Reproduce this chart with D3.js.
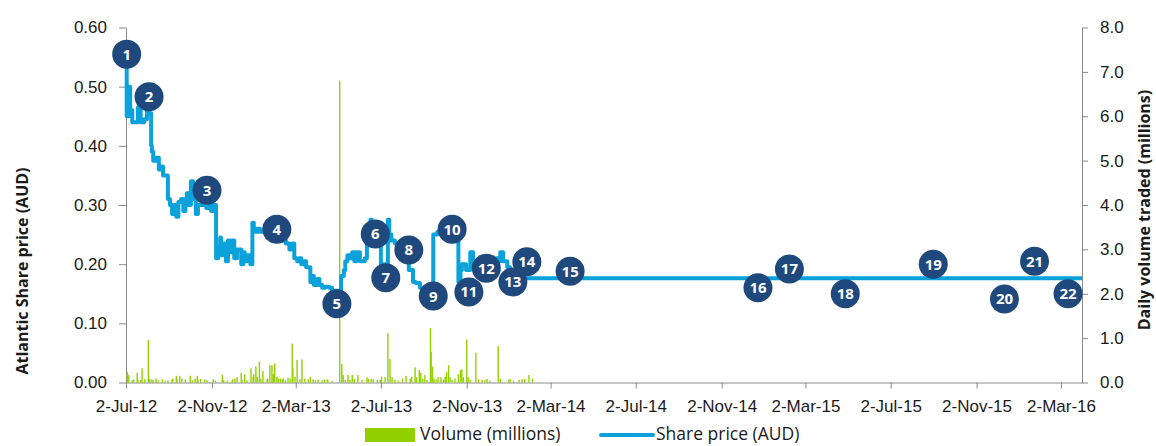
<!DOCTYPE html>
<html>
<head>
	<meta charset='utf-8'>
	<title>Atlantic share price</title>
	<style>
		body { margin: 0; background: #fff; }
		svg { font-family: 'Open Sans', sans-serif; }
		.axis path, .axis line { stroke: #898989; }
		.axis text { fill: #1a1a1a; font-size: 17px; }
		.title { font-size: 16px; font-weight: bold; fill: #1a1a1a; }
		.legend text { font-size: 17.5px; fill: #1a1a1a; }
		.mark text { fill: #fff; font-size: 15px; font-weight: bold; }
	</style>
</head>
<body>
<script src='https://d3js.org/d3.v7.min.js'></script>
<script>
	'use strict';
	// share price
	const priceDates = ['2012-07-02','2012-07-03','2012-07-06','2012-07-08','2012-07-11','2012-07-15','2012-07-19','2012-07-23','2012-07-28','2012-08-01',
		'2012-08-04','2012-08-07','2012-08-08','2012-08-10','2012-08-14','2012-08-18','2012-08-21','2012-08-24','2012-08-28','2012-08-31',
		'2012-09-03','2012-09-06','2012-09-09','2012-09-12','2012-09-15','2012-09-19','2012-09-22','2012-09-25','2012-09-27','2012-09-30',
		'2012-10-03','2012-10-06','2012-10-09','2012-10-10','2012-10-13','2012-10-19','2012-10-25','2012-10-27','2012-11-01','2012-11-04',
		'2012-11-07','2012-11-08','2012-11-11','2012-11-14','2012-11-15','2012-11-19','2012-11-22','2012-11-25','2012-11-28','2012-12-01',
		'2012-12-04','2012-12-08','2012-12-14','2012-12-17','2012-12-19','2012-12-22','2012-12-27','2012-12-30','2013-01-01','2013-01-06',
		'2013-01-10','2013-01-16','2013-01-20','2013-01-26','2013-02-09','2013-02-16','2013-02-21','2013-02-25','2013-02-28','2013-03-04',
		'2013-03-07','2013-03-10','2013-03-14','2013-03-17','2013-03-20','2013-03-23','2013-03-26','2013-03-28','2013-04-02','2013-04-05',
		'2013-04-09','2013-04-13','2013-04-19','2013-04-23','2013-04-27','2013-05-02','2013-05-03','2013-05-06','2013-05-10','2013-05-12',
		'2013-05-15','2013-05-18','2013-05-22','2013-05-25','2013-05-28','2013-05-30','2013-06-02','2013-06-05','2013-06-09','2013-06-12',
		'2013-06-17','2013-06-19','2013-06-24','2013-06-29','2013-07-02','2013-07-08','2013-07-12','2013-07-14','2013-07-17','2013-07-22',
		'2013-07-27','2013-08-01','2013-08-06','2013-08-11','2013-08-17','2013-08-21','2013-08-27','2013-09-06','2013-09-10','2013-09-15',
		'2013-09-21','2013-09-26','2013-10-02','2013-10-05','2013-10-08','2013-10-12','2013-10-18','2013-10-21','2013-10-24','2013-10-26',
		'2013-11-01','2013-11-07','2013-11-11','2013-11-17','2013-11-27','2013-12-07','2013-12-17','2013-12-20','2013-12-24','2013-12-30',
		'2014-01-03','2014-01-12','2014-01-22','2016-04-01'];
	const priceValues = [0.55,0.45,0.50,0.46,0.44,0.44,0.465,0.44,0.445,0.465,
		0.455,0.40,0.39,0.375,0.38,0.36,0.365,0.35,0.35,0.31,
		0.30,0.285,0.30,0.28,0.305,0.31,0.29,0.31,0.32,0.30,
		0.34,0.31,0.32,0.285,0.30,0.30,0.295,0.305,0.29,0.30,
		0.30,0.21,0.23,0.245,0.215,0.235,0.205,0.24,0.22,0.24,
		0.21,0.225,0.20,0.22,0.205,0.215,0.20,0.27,0.255,0.26,
		0.255,0.26,0.245,0.24,0.24,0.235,0.225,0.235,0.21,0.205,
		0.21,0.20,0.205,0.195,0.195,0.17,0.18,0.165,0.175,0.165,
		0.16,0.162,0.16,0.155,0.155,0.15,0.15,0.18,0.19,0.205,
		0.215,0.21,0.22,0.205,0.22,0.22,0.205,0.205,0.21,0.265,
		0.275,0.27,0.26,0.27,0.20,0.20,0.275,0.25,0.24,0.235,
		0.23,0.22,0.21,0.19,0.17,0.168,0.16,0.16,0.155,0.25,
		0.255,0.25,0.255,0.24,0.25,0.255,0.25,0.17,0.19,0.20,
		0.19,0.22,0.20,0.205,0.21,0.21,0.205,0.22,0.205,0.195,
		0.18,0.175,0.176,0.176];

	// daily volume in millions (only the visible bars)
	const volumeDates = ['2012-07-04','2012-07-06','2012-07-11','2012-07-13','2012-07-18','2012-07-19','2012-07-23','2012-07-25','2012-07-29','2012-08-03',
		'2012-08-05','2012-08-08','2012-08-10','2012-08-14','2012-08-17','2012-08-23','2012-08-27','2012-08-31','2012-09-06','2012-09-07',
		'2012-09-12','2012-09-13','2012-09-17','2012-09-20','2012-09-25','2012-10-02','2012-10-05','2012-10-09','2012-10-12','2012-10-13',
		'2012-10-17','2012-10-23','2012-10-26','2012-11-04','2012-11-07','2012-11-17','2012-11-19','2012-11-24','2012-12-01','2012-12-02',
		'2012-12-05','2012-12-08','2012-12-14','2012-12-15','2012-12-19','2012-12-22','2012-12-28','2012-12-31','2013-01-01','2013-01-04',
		'2013-01-06','2013-01-09','2013-01-10','2013-01-13','2013-01-14','2013-01-20','2013-01-21','2013-01-24','2013-01-27','2013-01-29',
		'2013-01-31','2013-02-03','2013-02-05','2013-02-08','2013-02-11','2013-02-12','2013-02-15','2013-02-19','2013-02-22','2013-02-25',
		'2013-02-26','2013-03-01','2013-03-04','2013-03-08','2013-03-11','2013-03-15','2013-03-20','2013-03-23','2013-03-27','2013-03-30',
		'2013-04-03','2013-04-09','2013-04-12','2013-04-16','2013-04-17','2013-04-23','2013-05-04','2013-05-07','2013-05-09','2013-05-12',
		'2013-05-16','2013-05-19','2013-05-22','2013-05-25','2013-05-30','2013-06-05','2013-06-12','2013-06-14','2013-06-18','2013-06-21',
		'2013-06-27','2013-07-01','2013-07-03','2013-07-08','2013-07-12','2013-07-15','2013-07-18','2013-07-22','2013-07-27','2013-08-02',
		'2013-08-07','2013-08-13','2013-08-15','2013-08-20','2013-08-22','2013-08-26','2013-08-28','2013-08-31','2013-09-03','2013-09-06',
		'2013-09-11','2013-09-12','2013-09-14','2013-09-16','2013-09-19','2013-09-22','2013-09-26','2013-09-30','2013-10-02','2013-10-04',
		'2013-10-07','2013-10-09','2013-10-12','2013-10-16','2013-10-21','2013-10-24','2013-10-26','2013-10-28','2013-11-02','2013-11-04',
		'2013-11-07','2013-11-15','2013-11-19','2013-11-24','2013-11-28','2013-12-01','2013-12-05','2013-12-17','2013-12-20','2014-01-01',
		'2014-01-03','2014-01-08','2014-01-16','2014-01-20','2014-01-24','2014-01-30','2014-02-04'];
	const volumeValues = [0.24,0.17,0.05,0.07,0.22,0.06,0.05,0.32,0.08,0.96,
		0.09,0.07,0.05,0.09,0.05,0.07,0.04,0.05,0.07,0.09,
		0.15,0.09,0.15,0.09,0.07,0.15,0.05,0.09,0.15,0.07,
		0.08,0.07,0.05,0.07,0.04,0.17,0.05,0.04,0.05,0.07,
		0.09,0.12,0.22,0.07,0.19,0.05,0.32,0.13,0.19,0.36,
		0.13,0.47,0.09,0.05,0.26,0.07,0.09,0.39,0.39,0.19,
		0.43,0.13,0.09,0.09,0.07,0.09,0.05,0.11,0.09,0.88,
		0.32,0.13,0.51,0.07,0.52,0.09,0.07,0.13,0.07,0.05,
		0.07,0.05,0.07,0.07,0.05,0.04,6.80,0.42,0.17,0.06,
		0.17,0.06,0.17,0.08,0.17,0.06,0.12,0.08,0.08,0.08,
		0.06,0.06,0.13,0.12,1.11,0.53,0.12,0.06,0.04,0.09,
		0.15,0.09,0.13,0.34,0.12,0.28,0.22,0.09,0.17,0.06,
		1.23,0.69,0.36,0.09,0.07,0.12,0.12,0.06,0.13,0.24,
		0.39,0.12,0.06,0.09,0.19,0.28,0.30,0.12,0.97,0.12,
		0.06,0.67,0.07,0.06,0.06,0.08,0.04,0.82,0.09,0.06,
		0.08,0.04,0.06,0.08,0.08,0.17,0.09];

	// numbered call-outs
	const markerLabels = ['1','2','3','4','5','6','7','8','9','10','11','12','13','14','15','16','17','18','19','20','21','22'];
	const markerDates = ['2012-07-03','2012-08-04','2012-10-26','2013-02-03','2013-04-30','2013-06-24','2013-07-09','2013-08-11','2013-09-15','2013-10-12',
		'2013-11-05','2013-11-30','2014-01-07','2014-01-27','2014-03-30','2014-12-24','2015-02-07','2015-04-28','2015-09-01','2015-12-12',
		'2016-01-24','2016-03-12'];
	const markerValues = [0.555,0.483,0.325,0.259,0.133,0.251,0.177,0.224,0.146,0.259,
		0.153,0.193,0.170,0.204,0.188,0.160,0.192,0.150,0.200,0.141,
		0.205,0.150];

	const xTicks = ['2012-07-02','2012-11-02','2013-03-02','2013-07-02','2013-11-02','2014-03-02','2014-07-02','2014-11-02','2015-03-02','2015-07-02','2015-11-02','2016-03-02'];
	const priceTicks = [0, 0.1, 0.2, 0.3, 0.4, 0.5, 0.6];
	const volumeTicks = [0, 1, 2, 3, 4, 5, 6, 7, 8];

	const width = 1156, height = 446;
	const plot = {left: 126, right: 1082, top: 27.5, bottom: 382.5};
	const parse = d3.timeParse('%Y-%m-%d');

	const x = d3.scaleTime()
		.domain([parse('2012-07-02'), parse('2016-04-01')])
		.range([plot.left, plot.right]);
	const yPrice = d3.scaleLinear().domain([0, 0.6]).range([plot.bottom, plot.top]);
	const yVol = d3.scaleLinear().domain([0, 8]).range([plot.bottom, plot.top]);

	const svg = d3.select('body').append('svg')
		.attr('width', width)
		.attr('height', height);

	// axes
	svg.append('g')
		.attr('class', 'axis')
		.attr('transform', 'translate(' + plot.left + ',0)')
		.call(d3.axisLeft(yPrice).tickValues(priceTicks).tickFormat(d3.format('.2f'))
			.tickSizeInner(7).tickSizeOuter(0).tickPadding(12));

	svg.append('g')
		.attr('class', 'axis')
		.attr('transform', 'translate(' + plot.right + ',0)')
		.call(d3.axisRight(yVol).tickValues(volumeTicks).tickFormat(d3.format('.1f'))
			.tickSizeInner(6).tickSizeOuter(0).tickPadding(12));

	svg.append('g')
		.attr('class', 'axis')
		.attr('transform', 'translate(0,' + plot.bottom + ')')
		.call(d3.axisBottom(x).tickValues(xTicks.map(parse)).tickFormat(d3.timeFormat('%-d-%b-%y'))
			.tickSizeInner(6).tickSizeOuter(0).tickPadding(11));

	// volume bars
	const vol = volumeDates.map(function(d, i) { return {date: parse(d), v: volumeValues[i]}; });
	svg.append('g').selectAll('rect')
		.data(vol)
		.enter()
		.append('rect')
		.attr('x', function(d) { return x(d.date) - 0.7; })
		.attr('width', 1.4)
		.attr('y', function(d) { return yVol(d.v); })
		.attr('height', function(d) { return plot.bottom - yVol(d.v); })
		.attr('fill', '#92d000');

	// share price
	const price = priceDates.map(function(d, i) { return {date: parse(d), p: priceValues[i]}; });
	svg.append('path')
		.datum(price)
		.attr('fill', 'none')
		.attr('stroke', '#0ba2dc')
		.attr('stroke-width', 4)
		.attr('stroke-linejoin', 'round')
		.attr('d', d3.line()
			.curve(d3.curveStepAfter)
			.x(function(d) { return x(d.date); })
			.y(function(d) { return yPrice(d.p); }));

	// numbered circles
	const marks = svg.selectAll('.mark')
		.data(markerLabels)
		.enter()
		.append('g')
		.attr('class', 'mark')
		.attr('transform', function(d, i) {
			return 'translate(' + x(parse(markerDates[i])) + ',' + yPrice(markerValues[i]) + ')';
		});
	marks.append('circle').attr('r', 14.5).attr('fill', '#1f497d');
	marks.append('text')
		.attr('text-anchor', 'middle')
		.attr('dy', '0.36em')
		.text(function(d) { return d; });

	// axis titles
	svg.append('text')
		.attr('class', 'title')
		.attr('transform', 'translate(28,' + 271 + ') rotate(-90)')
		.attr('text-anchor', 'middle')
		.text('Atlantic Share price (AUD)');
	svg.append('text')
		.attr('class', 'title')
		.attr('transform', 'translate(1150,' + 210 + ') rotate(-90)')
		.attr('text-anchor', 'middle')
		.text('Daily volume traded (millions)');

	// legend
	const legend = svg.append('g').attr('class', 'legend');
	legend.append('rect').attr('x', 365).attr('y', 428).attr('width', 50).attr('height', 14).attr('fill', '#92d000');
	legend.append('text').attr('x', 420).attr('y', 440).text('Volume (millions)');
	legend.append('line').attr('x1', 601).attr('x2', 653).attr('y1', 435).attr('y2', 435)
		.attr('stroke', '#0ba2dc').attr('stroke-width', 4).attr('stroke-linecap', 'round');
	legend.append('text').attr('x', 656).attr('y', 440).text('Share price (AUD)');
</script>
</body>
</html>
